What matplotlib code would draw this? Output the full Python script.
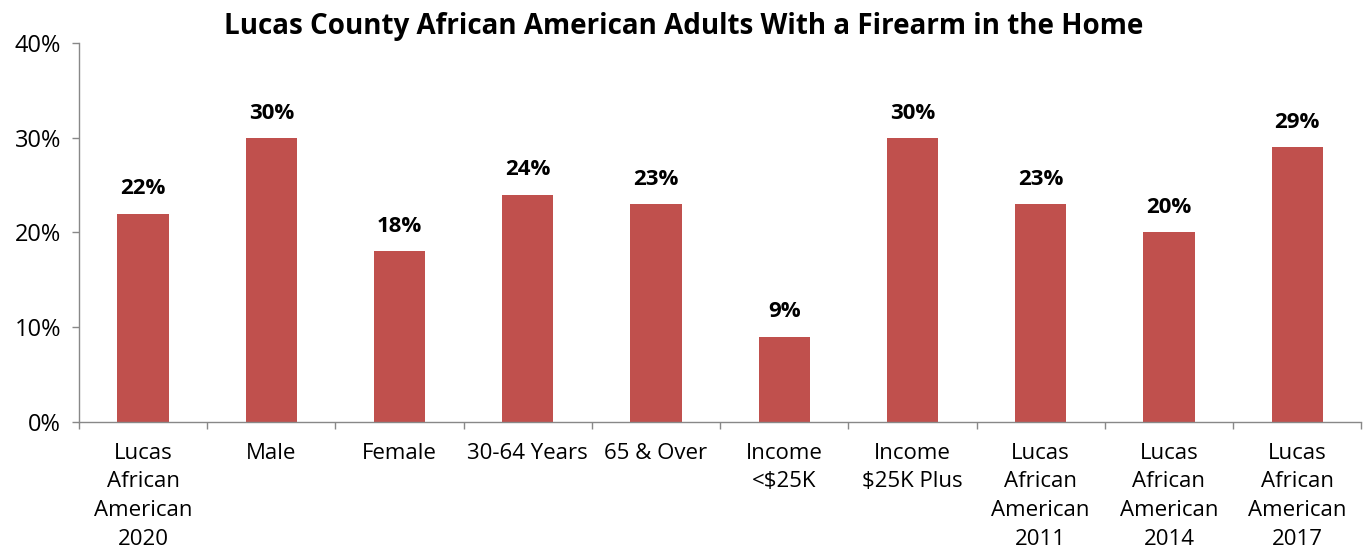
import matplotlib
matplotlib.use('Agg')
import matplotlib.pyplot as plt
from matplotlib.ticker import FixedLocator, PercentFormatter

categories = ['Lucas\nAfrican\nAmerican\n2020', 'Male', 'Female', '30-64 Years', '65 & Over',
              'Income\n<$25K', 'Income\n$25K Plus', 'Lucas\nAfrican\nAmerican\n2011',
              'Lucas\nAfrican\nAmerican\n2014', 'Lucas\nAfrican\nAmerican\n2017']
values = [22, 30, 18, 24, 23, 9, 30, 23, 20, 29]
labels = ['22%', '30%', '18%', '24%', '23%', '9%', '30%', '23%', '20%', '29%']

plt.rcParams['font.family'] = ['Open Sans', 'DejaVu Sans']

fig = plt.figure(figsize=(13.67, 5.48), dpi=100)
ax = fig.add_axes([0.0578, 0.230, 0.938, 0.6915])

x = list(range(len(values)))
ax.bar(x, values, width=0.4, color='#C0504D')
for xi, v, lab in zip(x, values, labels):
    ax.text(xi, v + 1.5, lab, ha='center', va='bottom', fontsize=16, fontweight='bold')

ax.set_xlim(-0.5, len(values) - 0.5)
ax.set_ylim(0, 40)
ax.set_yticks([0, 10, 20, 30, 40])
ax.yaxis.set_major_formatter(PercentFormatter(decimals=0))
ax.set_xticks(x)
ax.set_xticklabels(categories, fontsize=16, linespacing=1.48)
ax.xaxis.set_minor_locator(FixedLocator([i - 0.5 for i in range(len(values) + 1)]))
ax.tick_params(axis='x', which='major', length=0, pad=15)
ax.tick_params(axis='x', which='minor', length=5, color='#888888', width=1)
ax.tick_params(axis='y', labelsize=17, length=5, color='#888888', width=1, pad=8)

for s in ['top', 'right']:
    ax.spines[s].set_visible(False)
for s in ['left', 'bottom']:
    ax.spines[s].set_color('#888888')
    ax.spines[s].set_linewidth(1)

fig.text(0.5, 0.952, 'Lucas County African American Adults With a Firearm in the Home',
         ha='center', va='center', fontsize=20, fontweight='bold')

fig.savefig('out.png', dpi=100)
